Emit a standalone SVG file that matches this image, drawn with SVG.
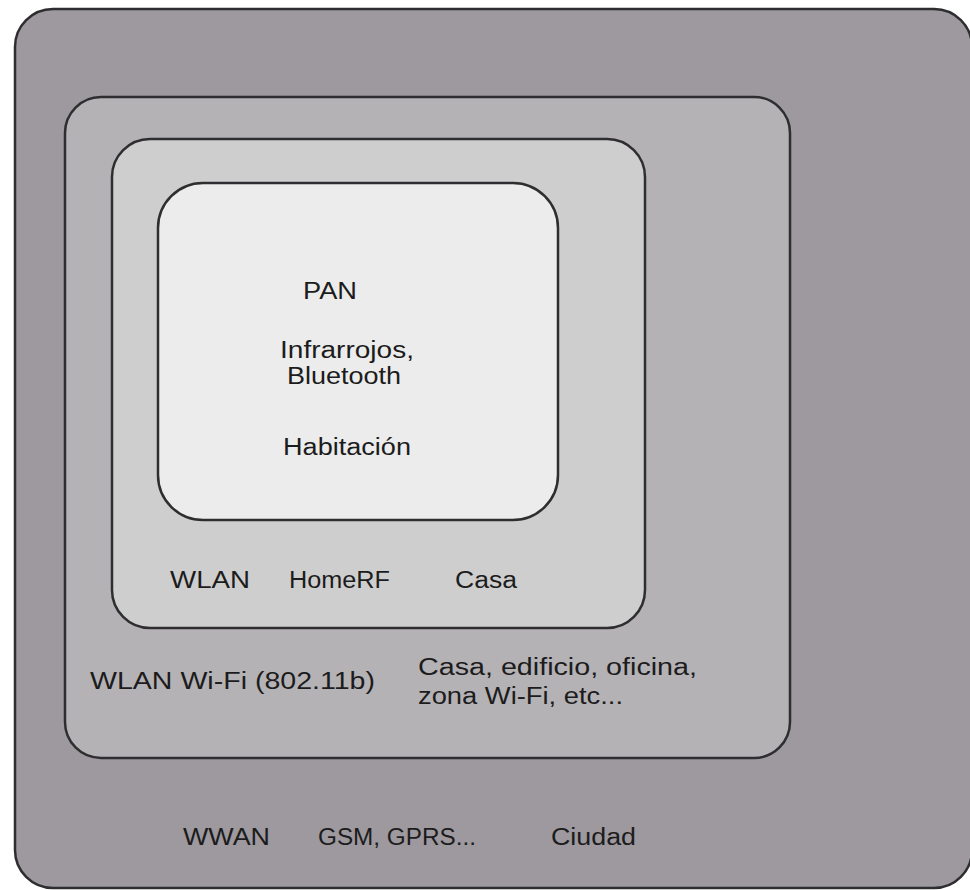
<svg xmlns="http://www.w3.org/2000/svg" width="970" height="890" viewBox="0 0 970 890">
<style>
.box{stroke:#2e2e30;stroke-width:2.5}
text{font-family:"Liberation Sans",Arial,sans-serif;font-size:23px;fill:#1c1c1c}
</style>
<rect width="970" height="890" fill="#ffffff"/>
<g id="wwan">
<rect class="box" x="15" y="9" width="957" height="879" rx="38" fill="#9d999e"/>
<text x="183" y="845" textLength="87" lengthAdjust="spacingAndGlyphs">WWAN</text>
<text x="318" y="845" textLength="158" lengthAdjust="spacingAndGlyphs">GSM, GPRS...</text>
<text x="551" y="845" textLength="85" lengthAdjust="spacingAndGlyphs">Ciudad</text>
</g>
<g id="wlan-outer">
<rect class="box" x="65" y="97" width="725" height="661" rx="36" fill="#b5b2b6"/>
<text x="90" y="689" textLength="285" lengthAdjust="spacingAndGlyphs">WLAN  Wi-Fi (802.11b)</text>
<text x="418" y="675" textLength="279" lengthAdjust="spacingAndGlyphs">Casa,  edificio, oficina,</text>
<text x="418" y="704" textLength="205" lengthAdjust="spacingAndGlyphs">zona Wi-Fi, etc...</text>
</g>
<g id="wlan-homerf">
<rect class="box" x="112" y="139" width="533" height="489" rx="38" fill="#cfcecf"/>
<text x="170" y="588" textLength="80" lengthAdjust="spacingAndGlyphs">WLAN</text>
<text x="289" y="588" textLength="101" lengthAdjust="spacingAndGlyphs">HomeRF</text>
<text x="455" y="588" textLength="62" lengthAdjust="spacingAndGlyphs">Casa</text>
</g>
<g id="pan">
<rect class="box" x="158" y="183" width="400" height="337" rx="45" fill="#ececec"/>
<text x="303" y="299" textLength="54" lengthAdjust="spacingAndGlyphs">PAN</text>
<text x="280" y="358" textLength="134" lengthAdjust="spacingAndGlyphs">Infrarrojos,</text>
<text x="287" y="384" textLength="114" lengthAdjust="spacingAndGlyphs">Bluetooth</text>
<text x="283" y="455" textLength="128" lengthAdjust="spacingAndGlyphs">Habitación</text>
</g>
<g id="connectors"/>
</svg>
